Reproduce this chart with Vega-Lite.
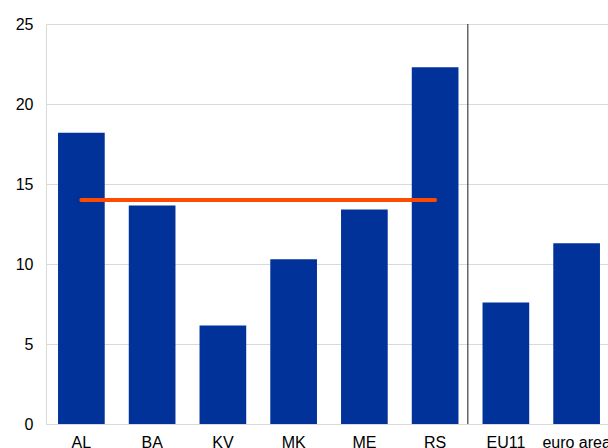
{
  "$schema": "https://vega.github.io/schema/vega-lite/v6.json",
  "autosize": {"type": "none"},
  "width": 562,
  "height": 400,
  "padding": {"left": 46, "top": 24, "right": 0, "bottom": 24},
  "config": {
    "view": {"stroke": null},
    "font": "Liberation Sans",
    "axis": {"labelFont": "Liberation Sans", "labelFontSize": 16, "labelColor": "#000000", "ticks": false, "domainColor": "#d9d9d9", "gridColor": "#d9d9d9", "title": null}
  },
  "layer": [
    {
      "data": {"values": [
        {"country": "AL", "value": 18.2},
        {"country": "BA", "value": 13.65},
        {"country": "KV", "value": 6.15},
        {"country": "MK", "value": 10.3},
        {"country": "ME", "value": 13.4},
        {"country": "RS", "value": 22.3},
        {"country": "EU11", "value": 7.6},
        {"country": "euro area", "value": 11.3}
      ]},
      "mark": {"type": "bar", "color": "#003299"},
      "encoding": {
        "x": {"field": "country", "type": "nominal", "sort": null,
              "scale": {"range": [0, 566], "paddingInner": 0.34, "paddingOuter": 0.17},
              "axis": {"labelAngle": 0, "labelPadding": 10, "grid": false}},
        "y": {"field": "value", "type": "quantitative",
              "scale": {"domain": [0, 25], "nice": false},
              "axis": {"values": [0, 5, 10, 15, 20, 25], "labelPadding": 13, "grid": true, "domain": true}}
      }
    },
    {
      "data": {"values": [{"country": "RS"}]},
      "mark": {"type": "rule", "color": "#404040", "strokeWidth": 1.2},
      "encoding": {
        "x": {"field": "country", "type": "nominal", "sort": null, "bandPosition": 1.2}
      }
    },
    {
      "data": {"values": [
        {"country": "AL", "avg": 14},
        {"country": "RS", "avg": 14}
      ]},
      "mark": {"type": "line", "color": "#ff4b00", "strokeWidth": 4, "strokeCap": "round"},
      "encoding": {
        "x": {"field": "country", "type": "nominal", "sort": null},
        "y": {"field": "avg", "type": "quantitative"}
      }
    }
  ]
}
